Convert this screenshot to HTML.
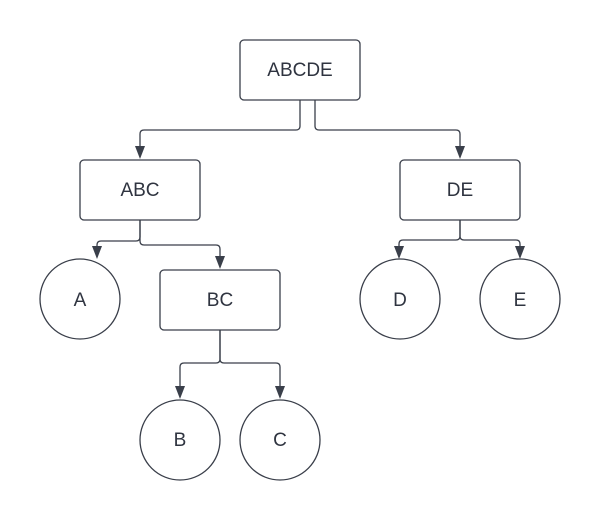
<!DOCTYPE html>
<html><head><style>body{margin:0;background:#fff}</style></head><body>
<svg width="600" height="520" xmlns="http://www.w3.org/2000/svg" font-family="Liberation Sans, sans-serif" font-size="19" fill="none">
<g stroke="#3a3f4a" stroke-width="1.3">
<path d="M300,100 V126 Q300,130 296,130 H144 Q140,130 140,134 V148"/>
<path d="M315,100 V126 Q315,130 319,130 H456 Q460,130 460,134 V148"/>
<path d="M140,220 V237 Q140,241 136,241 H101 Q97,241 97,245 V248"/>
<path d="M140,220 V241 Q140,245 144,245 H216 Q220,245 220,249 V258"/>
<path d="M460,220 V236 Q460,240 456,240 H403 Q399,240 399,244 V248"/>
<path d="M460,220 V236 Q460,240 464,240 H516 Q520,240 520,244 V248"/>
<path d="M220,330 V359 Q220,363 216,363 H184 Q180,363 180,367 V388"/>
<path d="M220,330 V359 Q220,363 224,363 H276 Q280,363 280,367 V388"/>
<rect x="240" y="40" width="120" height="60" rx="4" fill="#fff"/>
<rect x="80" y="160" width="120" height="60" rx="4" fill="#fff"/>
<rect x="400" y="160" width="120" height="60" rx="4" fill="#fff"/>
<rect x="160" y="270" width="120" height="60" rx="4" fill="#fff"/>
<circle cx="80" cy="299" r="40" fill="#fff"/>
<circle cx="400" cy="299" r="40" fill="#fff"/>
<circle cx="520" cy="299" r="40" fill="#fff"/>
<circle cx="180" cy="440" r="40" fill="#fff"/>
<circle cx="280" cy="440" r="40" fill="#fff"/>
</g>
<g fill="#3a3f4a">
<path d="M135,146 h10 l-5,13z"/>
<path d="M455,146 h10 l-5,13z"/>
<path d="M92,246 h10 l-5,13z"/>
<path d="M215,256 h10 l-5,13z"/>
<path d="M394,246 h10 l-5,13z"/>
<path d="M515,246 h10 l-5,13z"/>
<path d="M175,386 h10 l-5,13z"/>
<path d="M275,386 h10 l-5,13z"/>
</g>
<g fill="#2f3440" text-anchor="middle">
<text x="300" y="76">ABCDE</text>
<text x="140" y="196">ABC</text>
<text x="460" y="196">DE</text>
<text x="220" y="306">BC</text>
<text x="80" y="306">A</text>
<text x="400" y="306">D</text>
<text x="520" y="306">E</text>
<text x="180" y="446">B</text>
<text x="280" y="446">C</text>
</g>
</svg>
</body></html>
